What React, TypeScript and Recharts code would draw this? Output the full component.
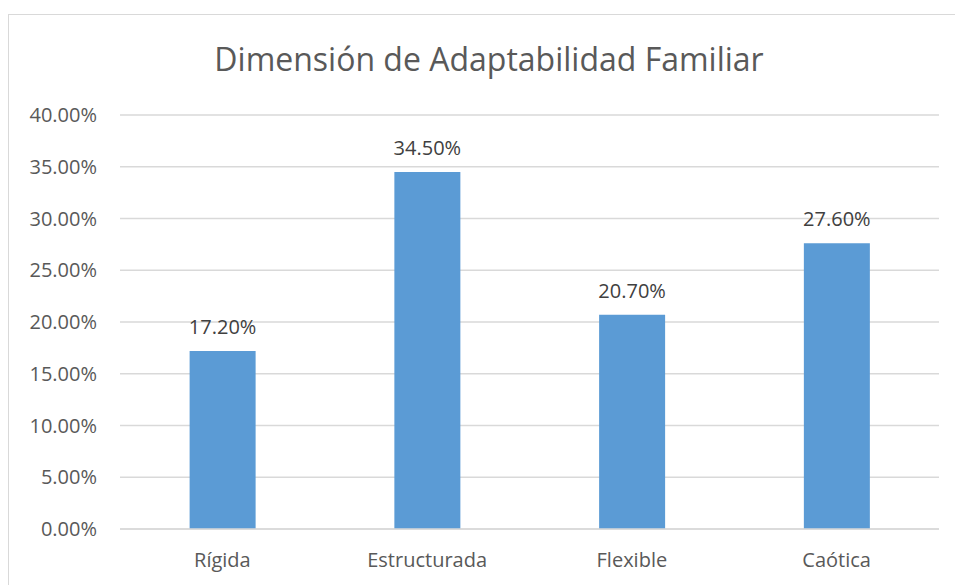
import { BarChart, Bar, XAxis, YAxis, CartesianGrid, LabelList } from "recharts";

const categories = ["Rígida", "Estructurada", "Flexible", "Caótica"];
const values = [0.172, 0.345, 0.207, 0.276];
const yTicks = [0, 0.05, 0.1, 0.15, 0.2, 0.25, 0.3, 0.35, 0.4];

const data = categories.map((name, i) => ({ name, value: values[i] }));

const FONT = "'Open Sans', 'Noto Sans', sans-serif";
const pct = (v: number) => `${(v * 100).toFixed(2)}%`;

export default function App() {
  return (
    <div style={{ position: "absolute", left: 0, top: 0, width: 955, height: 585, overflow: "hidden", background: "#fff" }}>
      <div
        style={{
          position: "absolute",
          left: 8,
          top: 14,
          width: 960,
          height: 600,
          border: "1px solid #d9d9d9",
          boxSizing: "border-box",
        }}
      />
      <div
        style={{
          position: "absolute",
          left: 0,
          width: 978,
          top: 37,
          textAlign: "center",
          fontFamily: FONT,
          fontSize: 32,
          color: "#595959",
        }}
      >
        Dimensión de Adaptabilidad Familiar
      </div>
      <div style={{ position: "absolute", left: 0, top: 0 }}>
        <BarChart
          width={955}
          height={585}
          data={data}
          margin={{ top: 115, right: 16, bottom: 26, left: 0 }}
          barCategoryGap="34%"
        >
          <CartesianGrid vertical={false} stroke="#d9d9d9" strokeWidth={1.3} />
          <XAxis
            dataKey="name"
            axisLine={{ stroke: "#d9d9d9", strokeWidth: 1.3 }}
            tickLine={false}
            tickSize={0}
            tickMargin={24}
            tick={{ fill: "#595959", fontSize: 20, fontFamily: FONT }}
          />
          <YAxis
            width={120}
            domain={[0, 0.4]}
            ticks={yTicks}
            tickFormatter={pct}
            axisLine={false}
            tickLine={false}
            tickSize={0}
            tickMargin={23}
            tick={{ fill: "#595959", fontSize: 20, fontFamily: FONT }}
          />
          <Bar dataKey="value" fill="#5b9bd5" isAnimationActive={false}>
            <LabelList
              dataKey="value"
              position="top"
              offset={17}
              formatter={(v: unknown) => pct(Number(v))}
              style={{ fill: "#404040", fontSize: 20, fontFamily: FONT }}
            />
          </Bar>
        </BarChart>
      </div>
    </div>
  );
}
